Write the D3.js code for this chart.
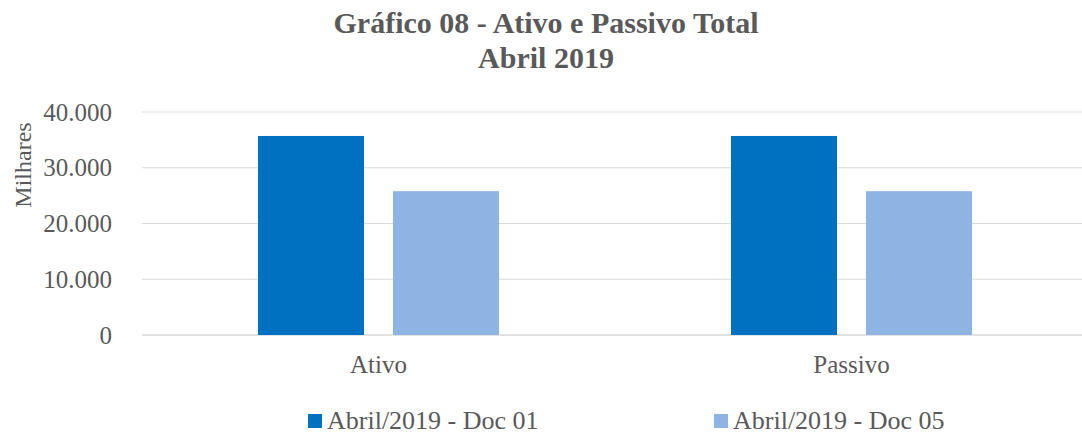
<!DOCTYPE html>
<html>
<head>
<meta charset="utf-8">
<script src="https://cdn.jsdelivr.net/npm/d3@7"></script>
<style>
  body { margin: 0; background: #fff; }
  svg text { font-family: 'Liberation Serif', 'Times New Roman', serif; }
</style>
</head>
<body>
<svg id="chart"></svg>
<script>
const categories = ['Ativo', 'Passivo'];
const seriesNames = ['Abril/2019 - Doc 01', 'Abril/2019 - Doc 05'];
const doc01Values = [35700, 35700];
const doc05Values = [25800, 25800];
const yTicks = [0, 10000, 20000, 30000, 40000];

const width = 1082, height = 435;
const margin = { top: 112, right: -6, bottom: 100, left: 142 };
const colors = ['#0070C0', '#8EB4E3'];
const textColor = '#595959';
const serif = "'Liberation Serif', 'Times New Roman', serif";

const svg = d3.select('#chart')
    .attr('width', width)
    .attr('height', height);

const rows = categories.map((c, i) => ({ cat: c, values: [doc01Values[i], doc05Values[i]] }));

const x0 = d3.scaleBand()
    .domain(categories)
    .range([margin.left, width - margin.right]);

const x1 = d3.scaleBand()
    .domain(seriesNames)
    .range([116, x0.bandwidth() - 116])
    .paddingInner(0.215);

const y = d3.scaleLinear()
    .domain([0, 40000])
    .range([height - margin.bottom, margin.top]);

const fmt = v => d3.format(',')(v).replace(/,/g, '.');

// gridlines
svg.append('g')
    .selectAll('line')
    .data(yTicks)
    .enter()
    .append('line')
    .attr('x1', margin.left)
    .attr('x2', width)
    .attr('y1', d => y(d))
    .attr('y2', d => y(d))
    .attr('stroke', '#D9D9D9')
    .attr('stroke-width', d => d === 0 ? 1.5 : 1);

// y axis labels
const yAxis = d3.axisLeft(y).tickValues(yTicks).tickFormat(fmt).tickSize(0).tickPadding(30);
const yg = svg.append('g')
    .attr('transform', 'translate(' + margin.left + ',0)')
    .call(yAxis);
yg.select('.domain').remove();
yg.selectAll('text')
    .attr('fill', textColor)
    .style('font-size', '25px')
    .style('font-family', serif);

// bars
const groups = svg.selectAll('.cat')
    .data(rows)
    .enter()
    .append('g')
    .attr('class', 'cat')
    .attr('transform', d => 'translate(' + x0(d.cat) + ',0)');

groups.selectAll('rect')
    .data(d => d.values.map((v, i) => ({ name: seriesNames[i], value: v, i: i })))
    .enter()
    .append('rect')
    .attr('x', d => x1(d.name))
    .attr('width', x1.bandwidth())
    .attr('y', d => y(d.value))
    .attr('height', d => y(0) - y(d.value))
    .attr('fill', d => colors[d.i]);

// category labels
const xAxis = d3.axisBottom(x0).tickSize(0).tickPadding(20);
const xg = svg.append('g')
    .attr('transform', 'translate(0,' + y(0) + ')')
    .call(xAxis);
xg.select('.domain').remove();
xg.selectAll('text')
    .attr('fill', textColor)
    .style('font-size', '25px')
    .style('font-family', serif);

// y axis title
svg.append('text')
    .attr('transform', 'translate(31,165) rotate(-90)')
    .attr('text-anchor', 'middle')
    .attr('fill', textColor)
    .style('font-size', '24px')
    .style('font-family', serif)
    .text('Milhares');

// title
const title = svg.append('text')
    .attr('text-anchor', 'middle')
    .attr('fill', textColor)
    .style('font-weight', 'bold')
    .style('font-size', '30px')
    .style('font-family', serif);
title.append('tspan').attr('x', 546).attr('y', 33).text('Gráfico 08 - Ativo e Passivo Total');
title.append('tspan').attr('x', 546).attr('y', 68).text('Abril 2019');

// legend
const legendX = [308, 714];
const legend = svg.selectAll('.legend')
    .data(seriesNames)
    .enter()
    .append('g')
    .attr('class', 'legend')
    .attr('transform', (d, i) => 'translate(' + legendX[i] + ',414)');

legend.append('rect')
    .attr('width', 14)
    .attr('height', 14)
    .attr('fill', (d, i) => colors[i]);

legend.append('text')
    .attr('x', 19)
    .attr('y', 15)
    .attr('fill', textColor)
    .style('font-size', '26px')
    .style('font-family', serif)
    .text(d => d);
</script>
</body>
</html>
